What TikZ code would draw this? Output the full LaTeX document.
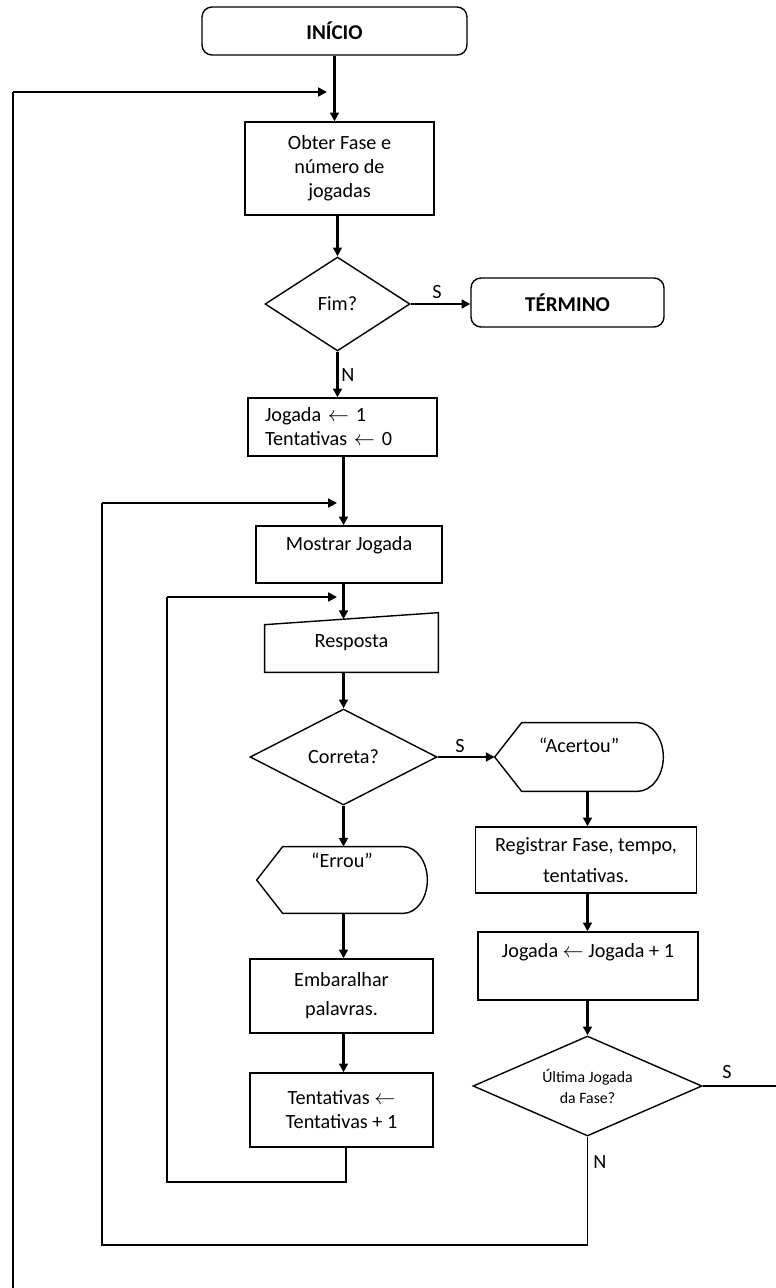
\documentclass[tikz,border=0pt]{standalone}
\usepackage{fontspec}
\setmainfont{Carlito}
\usetikzlibrary{calc, shapes.geometric, arrows.meta}

\tikzset{
	caixa/.style={draw, line width=0.8pt, align=center, inner sep=0pt},
	terminal/.style={caixa, rounded corners=0.2cm, font=\fontsize{12}{14}\selectfont\bfseries},
	decisao/.style={caixa, diamond},
	forma/.style={align=center, inner sep=0pt},
	seta/.style={line width=1.5pt, -{Triangle[length=5pt, width=5pt]}},
	laco/.style={line width=1pt},
	alto/.style={text height=8.5pt, text depth=#1},
}

\begin{document}
\begin{tikzpicture}[x=0.02cm, y=-0.02cm, every node/.style={font=\fontsize{11.5}{13.6}\selectfont}]

	\useasboundingbox (0,0) rectangle (776,1288);
	\clip (0,0) rectangle (776,1288);

	\node[terminal, minimum width=5.3cm, minimum height=0.96cm] (inicio) at (334.5,31) {INÍCIO};
	\node[caixa, minimum width=3.78cm, minimum height=1.86cm] (obter) at (339.5,168.5)
	{Obter Fase e\\número de\\jogadas};
	\node[decisao, minimum width=2.9cm, minimum height=1.88cm] (fim) at (337.5,304) {Fim?};
	\node[terminal, minimum width=3.86cm, minimum height=0.98cm] (termino) at (567.5,302.5) {TÉRMINO};
	\node[caixa, minimum height=1.16cm, text width=3.1cm, align=left, inner xsep=0.34cm] (jogada)
	at (342.5,427) {Jogada $\leftarrow$ 1\\Tentativas $\leftarrow$ 0};
	\node[caixa, alto=12.8pt, minimum width=3.72cm, minimum height=1.14cm] (mostrar) at (349,554.5)
	{Mostrar Jogada};

	\node[forma, minimum width=3.46cm, minimum height=1.18cm] (resposta) at (351.5,642.5) {Resposta};
	\draw[line width=0.8pt] (resposta.south west) -- ([yshift=-0.24cm]resposta.north west) --
	(resposta.north east) -- (resposta.south east) -- cycle;
	\coordinate (entrada) at ($([yshift=-0.24cm]resposta.north west)!0.454!(resposta.north east)$);

	\node[decisao, minimum width=3.74cm, minimum height=1.92cm] (correta) at (343.5,757) {Correta?};

	\node[forma, alto=13.6pt, minimum width=3.36cm, minimum height=1.36cm] (acertou) at (579,757)
	{“Acertou”};
	\draw[line width=0.8pt] (acertou.west) -- ([xshift=0.54cm]acertou.north west) --
	([xshift=-0.52cm]acertou.north east) .. controls ([xshift=-0.233cm]acertou.north east) and
	([yshift=0.375cm]acertou.east) .. (acertou.east) .. controls ([yshift=-0.375cm]acertou.east) and
	([xshift=-0.233cm]acertou.south east) .. ([xshift=-0.52cm]acertou.south east) --
	([xshift=0.54cm]acertou.south west) -- cycle;

	\node[forma, alto=22.7pt, minimum width=3.4cm, minimum height=1.32cm] (errou) at (342,880)
	{“Errou”};
	\draw[line width=0.8pt] (errou.west) -- ([xshift=0.52cm]errou.north west) --
	([xshift=-0.48cm]errou.north east) .. controls ([xshift=-0.215cm]errou.north east) and
	([yshift=0.364cm]errou.east) .. (errou.east) .. controls ([yshift=-0.364cm]errou.east) and
	([xshift=-0.215cm]errou.south east) .. ([xshift=-0.48cm]errou.south east) --
	([xshift=0.52cm]errou.south west) -- cycle;

	\node[caixa, minimum width=4.42cm, minimum height=1.32cm] (registrar) at (586,860)
	{Registrar Fase, tempo,\\[4pt]tentativas.};
	\node[caixa, alto=18.1pt, minimum width=4.4cm, minimum height=1.36cm] (incremento) at (588,966)
	{Jogada $\leftarrow$ Jogada + 1};
	\node[decisao, shape aspect=2.3, minimum width=4.58cm, minimum height=2cm,
	font=\fontsize{9}{12}\selectfont] (ultima) at (587.5,1086) {Última Jogada\\da Fase?};

	\node[caixa, minimum width=3.66cm, minimum height=1.48cm] (embaralhar) at (341.5,996)
	{Embaralhar\\[3pt]palavras.};
	\node[caixa, minimum width=3.66cm, minimum height=1.48cm] (tentativas) at (341.5,1110)
	{Tentativas $\leftarrow$\\Tentativas + 1};

	% fluxo principal
	\draw[seta] (inicio.south) -- (inicio.south |- obter.north);
	\draw[seta] (obter.south -| fim.north) -- (fim.north);
	\draw[seta] (fim.east) -- (fim.east -| termino.west);
	\draw[seta] (fim.south) -- (fim.south |- jogada.north);
	\draw[seta] (jogada.south -| correta.north) -- (mostrar.north -| correta.north);
	\draw[seta] (mostrar.south -| entrada) -- (entrada);
	\draw[seta] (resposta.south -| correta.north) -- (correta.north);
	\draw[seta] (correta.east) -- (correta.east -| acertou.west);
	\draw[seta] (correta.south) -- (correta.south |- errou.north);
	\draw[seta] (errou.south -| correta.south) -- (correta.south |- embaralhar.north);
	\draw[seta] (correta.south |- embaralhar.south) -- (correta.south |- tentativas.north);
	\draw[seta] (acertou.south -| ultima.north) -- (ultima.north |- registrar.north);
	\draw[seta] (ultima.north |- registrar.south) -- (ultima.north |- incremento.north);
	\draw[seta] (incremento.south -| ultima.north) -- (ultima.north);

	\node (s1) at (437,292) {S};
	\node (n1) at (348,375) {N};
	\node (s2) at (460,746) {S};
	\node (s3) at (727,1072) {S};
	\node (n2) at (600,1162) {N};

	% voltas
	\coordinate (canto) at (790,1288.5);
	\coordinate (volta1) at (13,92);
	\coordinate (alvo1) at (327,92);
	\draw[laco] (ultima.east) -| (canto) -| (volta1);
	\draw[seta] (volta1) -- (alvo1);

	\coordinate (base2) at (102,1245);
	\coordinate (volta2) at (102,503);
	\coordinate (alvo2) at (337,503);
	\draw[laco] (ultima.south) |- (base2) -- (volta2);
	\draw[seta] (volta2) -- (alvo2);

	\coordinate (base3) at (167,1182);
	\coordinate (volta3) at (167,597);
	\coordinate (alvo3) at (337,597);
	\draw[laco] ([xshift=0.09cm]tentativas.south) |- (base3) -- (volta3);
	\draw[seta] (volta3) -- (alvo3);

\end{tikzpicture}
\end{document}
